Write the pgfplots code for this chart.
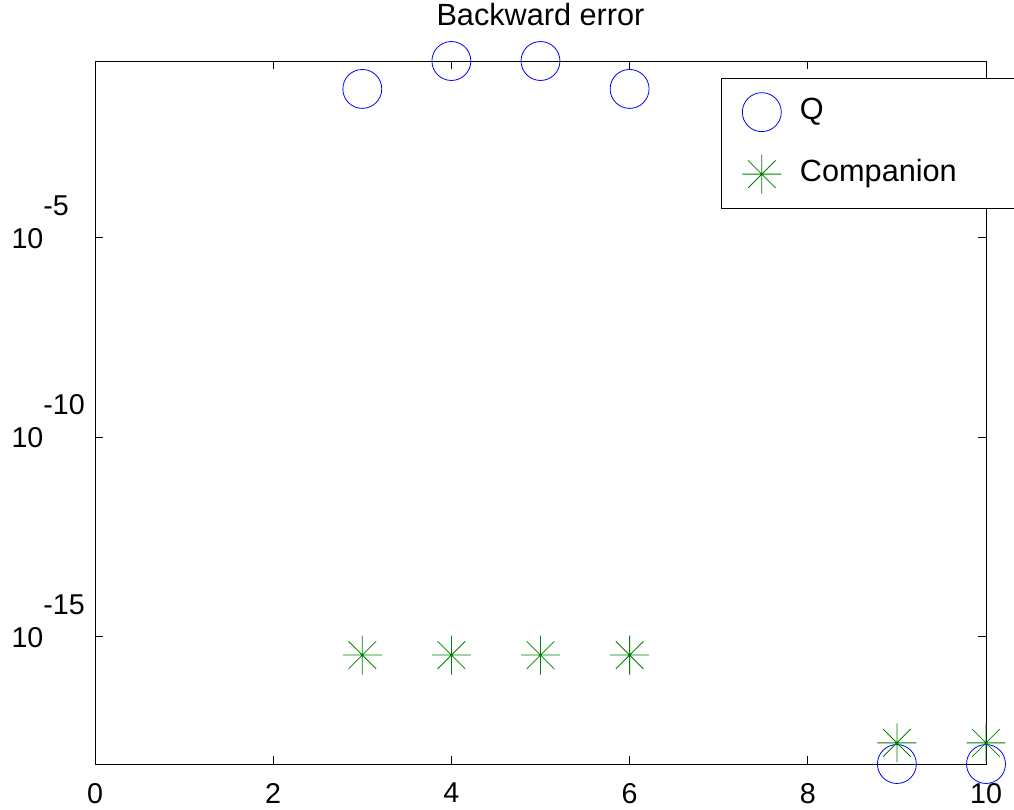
\documentclass[border=0pt]{standalone}
\usepackage{fontspec}
\setmainfont{Liberation Sans}
\usepackage{pgfplots}
\pgfplotsset{compat=1.18}
\pgfdeclareplotmark{mstar}{%
  \pgfpathmoveto{\pgfqpoint{-\pgfplotmarksize}{0pt}}%
  \pgfpathlineto{\pgfqpoint{\pgfplotmarksize}{0pt}}%
  \pgfpathmoveto{\pgfqpoint{0pt}{-\pgfplotmarksize}}%
  \pgfpathlineto{\pgfqpoint{0pt}{\pgfplotmarksize}}%
  \pgfpathmoveto{\pgfqpoint{-0.7071\pgfplotmarksize}{-0.7071\pgfplotmarksize}}%
  \pgfpathlineto{\pgfqpoint{0.7071\pgfplotmarksize}{0.7071\pgfplotmarksize}}%
  \pgfpathmoveto{\pgfqpoint{-0.7071\pgfplotmarksize}{0.7071\pgfplotmarksize}}%
  \pgfpathlineto{\pgfqpoint{0.7071\pgfplotmarksize}{-0.7071\pgfplotmarksize}}%
  \pgfusepathqstroke
}
\definecolor{mgreen}{rgb}{0,0.5,0}
\pgfplotsset{mylegimg/.style={legend image code/.code={\path[draw=none,fill=none] (-14.6pt,-14.6pt) rectangle (14.6pt,14.6pt); \draw[##1] plot coordinates {(0pt,0pt)};}}}
\begin{document}
\begin{tikzpicture}
\begin{axis}[
  at={(0pt,0pt)}, anchor=south west,
  scale only axis, width=668.25pt, height=527.25pt,
  ymode=log,
  xmin=0, xmax=10, ymin=6.46e-19, ymax=0.269,
  clip=false,
  axis line style={black, line width=0.6pt},
  every tick/.style={black, line width=0.6pt},
  tick align=inside, major tick length=6pt,
  yminorticks=false,
  xtick={0,2,4,6,8,10},
  ytick={1e-15,1e-10,1e-5},
  yticklabels={10\rlap{\raisebox{24.75pt}{-15}},10\rlap{\raisebox{24.75pt}{-10}},10\rlap{\raisebox{24.75pt}{-5}}},
  /pgf/number format/assume math mode=true,
  tick label style={font=\fontsize{21.5}{25}\selectfont},
  xticklabel style={anchor=north, inner sep=0pt, yshift=-14.25pt},
  yticklabel style={anchor=base east, inner sep=0pt, xshift=-38.5pt, yshift=-7.9pt},
  title={Backward error},
  title style={at={(0.5,1)}, anchor=base, yshift=21pt, inner sep=0pt, font=\fontsize{23}{27}\selectfont},
  mylegimg,
  legend cell align=left,
  legend style={at={(axis description cs:0.7026,0.9758)}, anchor=north west,
    inner xsep=16pt, inner ysep=11pt, outer sep=0pt,
    draw=black, line width=0.6pt, fill=white,
    row sep=17.3pt, column sep=14pt,
    font=\fontsize{23}{27}\selectfont,
    nodes={inner sep=0pt, text width=160pt, text height=16pt, text depth=4.6pt, anchor=west}},
]
\addplot[only marks, mark=o, mark size=14.6pt, color=blue, line width=0.6pt]
  coordinates {(3,0.0537) (4,0.269) (5,0.269) (6,0.0537) (9,6.46e-19) (10,6.46e-19)};
\addlegendentry{Q}
\addplot[only marks, mark=mstar, mark size=14.6pt, color=mgreen, line width=0.6pt]
  coordinates {(3,3.47e-16) (4,3.47e-16) (5,3.47e-16) (6,3.47e-16) (9,2.19e-18) (10,2.19e-18)};
\addlegendentry{Companion}
\end{axis}
\pgfresetboundingbox
\path[use as bounding box] (-71.25pt,-34.5pt) rectangle (689.25pt,573pt);
\end{tikzpicture}
\end{document}
